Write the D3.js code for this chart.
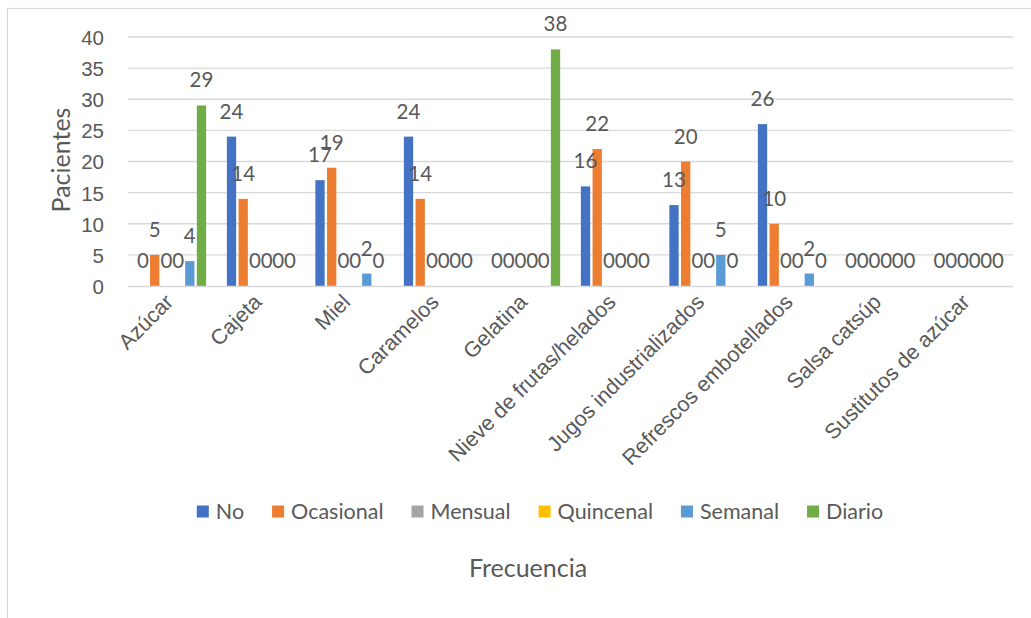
<!DOCTYPE html>
<html>
<head>
<meta charset="utf-8">
<script src="https://cdn.jsdelivr.net/npm/d3@7"></script>
<style>
  html, body { margin: 0; padding: 0; background: #fff; }
  svg { display: block; font-family: Lato, "Open Sans", sans-serif; }
</style>
</head>
<body>
<svg id="chart" width="1031" height="618"></svg>
<script>
const categories = ["Azúcar", "Cajeta", "Miel", "Caramelos", "Gelatina", "Nieve de frutas/helados",
  "Jugos industrializados", "Refrescos embotellados", "Salsa catsúp", "Sustitutos de azúcar"];
const seriesNames = ["No", "Ocasional", "Mensual", "Quincenal", "Semanal", "Diario"];
const seriesColors = ["#4472C4", "#ED7D31", "#A5A5A5", "#FFC000", "#5B9BD5", "#70AD47"];
const valuesNo        = [0, 24, 17, 24, 0, 16, 13, 26, 0, 0];
const valuesOcasional = [5, 14, 19, 14, 0, 22, 20, 10, 0, 0];
const valuesMensual   = [0, 0, 0, 0, 0, 0, 0, 0, 0, 0];
const valuesQuincenal = [0, 0, 0, 0, 0, 0, 0, 0, 0, 0];
const valuesSemanal   = [4, 0, 2, 0, 0, 0, 5, 2, 0, 0];
const valuesDiario    = [29, 0, 0, 0, 38, 0, 0, 0, 0, 0];
const yTicks = [0, 5, 10, 15, 20, 25, 30, 35, 40];
const yTitle = "Pacientes";
const xTitle = "Frecuencia";

const allValues = [valuesNo, valuesOcasional, valuesMensual, valuesQuincenal, valuesSemanal, valuesDiario];

const svg = d3.select("#chart");
const textColor = "#595959";
const gridColor = "#d9d9d9";

// chart frame
svg.append("rect").attr("x", 7.5).attr("y", 8.5).attr("width", 1100).attr("height", 700)
  .attr("fill", "none").attr("stroke", gridColor).attr("stroke-width", 1.2);

const plotLeft = 128, plotRight = 1013, plotTop = 37, plotBottom = 286;

const x = d3.scaleBand().domain(categories).range([plotLeft, plotRight]).paddingInner(0.234).paddingOuter(0.117);
const xs = d3.scaleBand().domain(seriesNames).range([0, x.bandwidth()]).paddingInner(0.205).paddingOuter(0);
const y = d3.scaleLinear().domain([0, 40]).range([plotBottom, plotTop]);

// gridlines
svg.append("g").selectAll("line").data(yTicks.filter(t => t > 0)).join("line")
  .attr("x1", plotLeft).attr("x2", plotRight)
  .attr("y1", d => y(d)).attr("y2", d => y(d))
  .attr("stroke", gridColor).attr("stroke-width", 1.3);

// y axis (labels only)
const yAxis = d3.axisLeft(y).tickValues(yTicks).tickSize(0).tickPadding(0);
const gy = svg.append("g").attr("transform", `translate(104,0)`).call(yAxis);
gy.select(".domain").remove();
gy.selectAll("text").attr("fill", textColor).style("font-size", "20.5px").attr("dy", "0.36em").attr("x", 0);

// bars
const groups = svg.append("g").selectAll("g").data(seriesNames).join("g")
  .attr("fill", (d, i) => seriesColors[i]);
groups.each(function(s, si) {
  d3.select(this).selectAll("rect").data(categories).join("rect")
    .attr("x", (c) => x(c) + xs(s))
    .attr("width", xs.bandwidth())
    .attr("y", (c, ci) => y(allValues[si][ci]))
    .attr("height", (c, ci) => y(0) - y(allValues[si][ci]));
});

// x axis line
svg.append("line").attr("x1", plotLeft).attr("x2", plotRight).attr("y1", plotBottom + 0.5).attr("y2", plotBottom + 0.5)
  .attr("stroke", gridColor).attr("stroke-width", 1.5);

// data labels
const labels = svg.append("g").attr("fill", textColor).style("font-size", "20.5px").attr("text-anchor", "middle");
seriesNames.forEach((s, si) => {
  categories.forEach((c, ci) => {
    const v = allValues[si][ci];
    labels.append("text")
      .attr("x", x(c) + xs(s) + xs.bandwidth() / 2)
      .attr("y", y(v) - 18)
      .text(v);
  });
});

// category labels
const xAxis = d3.axisBottom(x).tickSize(0).tickPadding(0);
const gx = svg.append("g").attr("transform", `translate(-3,298)`).call(xAxis);
gx.select(".domain").remove();
gx.selectAll("text")
  .attr("fill", textColor).style("font-size", "21.5px")
  .attr("text-anchor", "end").attr("y", 0).attr("dy", "0.35em")
  .attr("transform", "rotate(-45)");

// legend
const legend = svg.append("g").style("font-size", "21.5px").attr("fill", textColor);
const items = [];
seriesNames.forEach((s, i) => {
  const g = legend.append("g");
  g.append("rect").attr("width", 12).attr("height", 12).attr("y", 505.5).attr("fill", seriesColors[i]);
  const t = g.append("text").attr("x", 19).attr("y", 519).text(s);
  items.push({ g, w: t.node().getComputedTextLength() + 19 });
});
const gap = 28;
const total = d3.sum(items, d => d.w) + gap * (items.length - 1);
let cx = 540 - total / 2;
items.forEach(it => { it.g.attr("transform", `translate(${cx},0)`); cx += it.w + gap; });

// axis titles
svg.append("text").attr("x", 528).attr("y", 577).attr("text-anchor", "middle")
  .attr("fill", textColor).style("font-size", "25px").text(xTitle);
svg.append("text").attr("transform", "translate(70,160) rotate(-90)").attr("text-anchor", "middle")
  .attr("fill", textColor).style("font-size", "25px").text(yTitle);
</script>
</body>
</html>
